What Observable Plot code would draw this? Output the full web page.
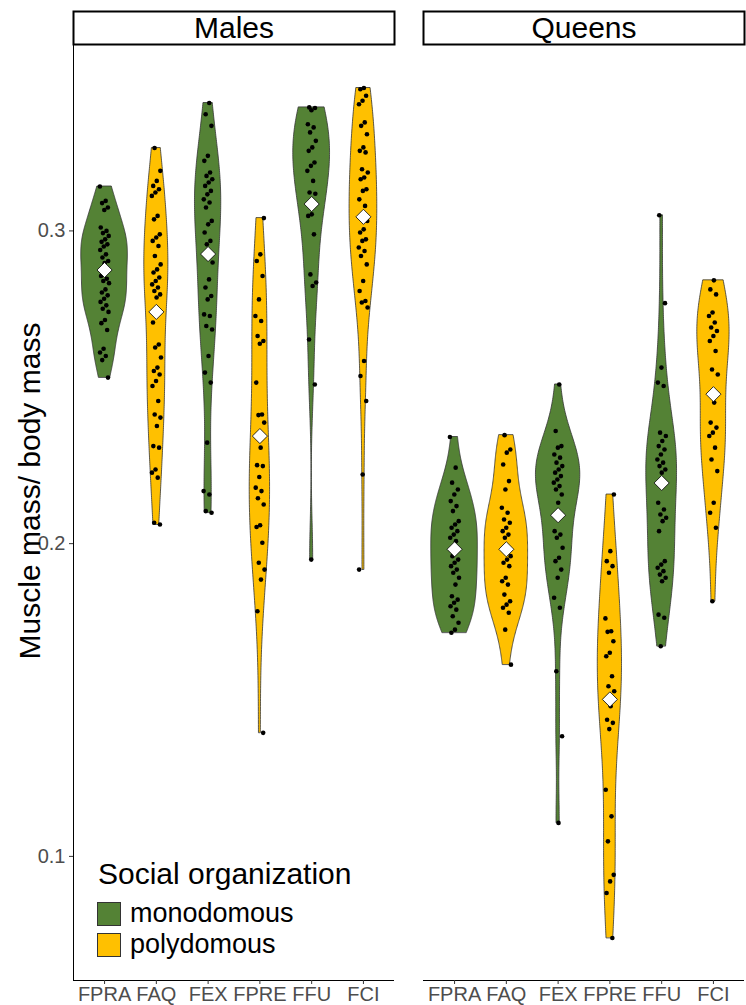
<!DOCTYPE html>
<html><head><meta charset="utf-8">
<script src="https://cdn.jsdelivr.net/npm/d3@7"></script>
<script src="https://cdn.jsdelivr.net/npm/@observablehq/plot@0.6"></script>
<style>
body{margin:0;background:#fff;font-family:"Liberation Sans",Arial,sans-serif;}
#wrap{position:relative;width:746px;height:1005px;}
#legend{position:absolute;left:97px;top:859px;color:#000;}
#legend .title{font-size:30px;margin-left:1px;line-height:30px;height:30px;}
#legend .row{display:flex;align-items:center;height:31px;}
#legend .row.first{margin-top:9px;}
#legend .sw{width:24px;height:24px;border:1px solid #333;box-sizing:border-box;margin-right:9px;flex:none;}
#legend .lab{font-size:27px;line-height:27px;}
svg g[aria-label="y-axis tick label"] text, svg g[aria-label="y-axis tick label"]{font-size:20px !important;}
svg g[aria-label="x-axis tick label"] text, svg g[aria-label="x-axis tick label"]{font-size:20px !important;}
</style></head><body><div id="wrap"><div id="legend"></div></div>
<script>
const categories = ["FPRA","FAQ","FEX","FPRE","FFU","FCI"];
const castes = ["Males","Queens"];
const socialOrg = ["monodomous","polydomous","monodomous","polydomous","monodomous","polydomous"];
const orgLevels = ["monodomous","polydomous"];
const orgColors = ["#548235","#FFC000"];
const yTicks = [0.1,0.2,0.3];

const malesFPRA = [0.3142,0.3096,0.3089,0.3075,0.3067,0.3011,0.3000,0.2993,0.2984,0.2973,0.2965,0.2957,0.2950,0.2939,0.2925,0.2915,0.2904,0.2897,0.2856,0.2847,0.2840,0.2833,0.2813,0.2803,0.2794,0.2783,0.2773,0.2762,0.2751,0.2741,0.2715,0.2705,0.2683,0.2623,0.2611,0.2600,0.2587,0.2531];
const malesFAQ = [0.3265,0.3192,0.3160,0.3144,0.3133,0.3123,0.3112,0.3048,0.3037,0.2989,0.2979,0.2968,0.2952,0.2920,0.2893,0.2877,0.2867,0.2851,0.2840,0.2829,0.2819,0.2808,0.2797,0.2787,0.2707,0.2637,0.2627,0.2595,0.2563,0.2552,0.2541,0.2520,0.2504,0.2456,0.2413,0.2403,0.2376,0.2312,0.2307,0.2237,0.2227,0.2211,0.2067,0.2061];
const malesFEX = [0.3409,0.3373,0.3336,0.3240,0.3224,0.3187,0.3176,0.3165,0.3155,0.3144,0.3128,0.3117,0.3101,0.3091,0.3075,0.3032,0.3021,0.2995,0.2968,0.2957,0.2899,0.2845,0.2819,0.2792,0.2781,0.2733,0.2728,0.2696,0.2685,0.2600,0.2547,0.2515,0.2323,0.2168,0.2157,0.2104,0.2099];
const malesFPRE = [0.3041,0.2925,0.2904,0.2856,0.2781,0.2728,0.2712,0.2664,0.2648,0.2639,0.2515,0.2413,0.2411,0.2387,0.2307,0.2251,0.2248,0.2213,0.2179,0.2168,0.2145,0.2125,0.2059,0.2053,0.2003,0.1939,0.1917,0.1885,0.1784,0.1395];
const malesFFU = [0.3395,0.3393,0.3386,0.3341,0.3331,0.3315,0.3288,0.3267,0.3256,0.3219,0.3208,0.3192,0.3160,0.3123,0.3119,0.3053,0.3048,0.2989,0.2861,0.2835,0.2824,0.2653,0.2509,0.1949];
const malesFCI = [0.3457,0.3453,0.3432,0.3416,0.3405,0.3347,0.3336,0.3309,0.3267,0.3256,0.3251,0.3197,0.3187,0.3171,0.3165,0.3133,0.3128,0.3101,0.3080,0.3048,0.3032,0.3005,0.2995,0.2973,0.2968,0.2947,0.2936,0.2920,0.2893,0.2840,0.2808,0.2776,0.2771,0.2755,0.2584,0.2536,0.2456,0.2221,0.1917];
const queensFPRA = [0.2341,0.2243,0.2195,0.2173,0.2157,0.2136,0.2120,0.2104,0.2072,0.2061,0.2051,0.2040,0.2029,0.2019,0.2008,0.1960,0.1949,0.1939,0.1928,0.1917,0.1907,0.1891,0.1869,0.1832,0.1821,0.1811,0.1800,0.1789,0.1768,0.1747,0.1725,0.1715];
const queensFAQ = [0.2347,0.2301,0.2291,0.2253,0.2200,0.2173,0.2115,0.2099,0.2077,0.2067,0.2051,0.2040,0.2029,0.2019,0.1960,0.1949,0.1939,0.1928,0.1891,0.1880,0.1869,0.1837,0.1816,0.1805,0.1795,0.1779,0.1725,0.1613];
const queensFEX = [0.2509,0.2360,0.2312,0.2307,0.2285,0.2275,0.2259,0.2248,0.2237,0.2227,0.2216,0.2205,0.2195,0.2184,0.2173,0.2157,0.2131,0.2040,0.2029,0.2019,0.1987,0.1955,0.1944,0.1917,0.1891,0.1827,0.1795,0.1592,0.1384,0.1107];
const queensFPRE = [0.2157,0.1976,0.1944,0.1928,0.1907,0.1761,0.1720,0.1718,0.1688,0.1651,0.1640,0.1576,0.1544,0.1528,0.1480,0.1437,0.1427,0.1407,0.1213,0.1128,0.1048,0.0941,0.0920,0.0883,0.0739];
const queensFFU = [0.3050,0.2769,0.2563,0.2515,0.2504,0.2355,0.2344,0.2328,0.2312,0.2301,0.2285,0.2269,0.2259,0.2248,0.2237,0.2227,0.2131,0.2109,0.2093,0.2083,0.2072,0.2040,0.1944,0.1933,0.1923,0.1912,0.1901,0.1891,0.1880,0.1773,0.1763,0.1672];
const queensFCI = [0.2842,0.2813,0.2797,0.2739,0.2728,0.2707,0.2691,0.2680,0.2664,0.2648,0.2616,0.2557,0.2541,0.2451,0.2387,0.2371,0.2355,0.2344,0.2307,0.2269,0.2232,0.2131,0.2099,0.2051,0.1816];

const maleMeans = [0.2875,0.2741,0.2926,0.2344,0.3086,0.3045];
const queenMeans = [0.1982,0.1982,0.2091,0.1502,0.2194,0.2478];

const groups = {
  Males: [malesFPRA, malesFAQ, malesFEX, malesFPRE, malesFFU, malesFCI],
  Queens: [queensFPRA, queensFAQ, queensFEX, queensFPRE, queensFFU, queensFCI]
};
const means = {Males: maleMeans, Queens: queenMeans};

// build tables
const pointRows = [], meanRows = [], violinRows = [];
castes.forEach(c => {
  const rowsC = [];
  groups[c].forEach((vals, i) => {
    const pos = i + 1, org = socialOrg[i], key = c + categories[i];
    vals.forEach((v, j) => {
      const jit = (((j * 0.618034 + i * 0.31) % 1) - 0.5) * 0.18;
      pointRows.push({caste: c, xj: pos + jit, value: v});
    });
    meanRows.push({caste: c, pos, mean: means[c][i]});
    // gaussian KDE, nrd0 bandwidth, trimmed to data range
    const s = vals.slice().sort(d3.ascending);
    const n = s.length;
    const sd = d3.deviation(s);
    const iqr = d3.quantile(s, 0.75) - d3.quantile(s, 0.25);
    const lo = Math.min(sd, iqr / 1.34) || sd;
    const bw = 0.9 * lo * Math.pow(n, -0.2);
    const mn = s[0], mx = s[n - 1], K = 200;
    for (let k = 0; k < K; k++) {
      const y = mn + (mx - mn) * k / (K - 1);
      let dsum = 0;
      for (const xv of s) { const u = (y - xv) / bw; dsum += Math.exp(-0.5 * u * u); }
      const dens = dsum / (n * bw * Math.sqrt(2 * Math.PI));
      rowsC.push({caste: c, key, org, pos, value: y, density: dens});
    }
  });
  const maxD = d3.max(rowsC, d => d.density);
  rowsC.forEach(r => { const hw = 0.45 * r.density / maxD; r.lo = r.pos - hw; r.hi = r.pos + hw; violinRows.push(r); });
});

const allVals = pointRows.map(d => d.value);
const [vmin, vmax] = d3.extent(allVals);
const pad = (vmax - vmin) * 0.05;
const yDomain = [vmin - pad, vmax + pad];
const xDomain = [0.4, 6.6];

const W = 746, H = 1005, MT = 45, MB = 25, ML = 73, MR = 1;
const frameH = H - MT - MB;

const chart = Plot.plot({
  width: W, height: H, marginTop: MT, marginBottom: MB, marginLeft: ML, marginRight: MR,
  style: {fontFamily: '"Liberation Sans", Arial, sans-serif', background: "white", color: "black"},
  fx: {domain: castes, padding: 0.0827, axis: null, label: null},
  x: {domain: xDomain, axis: null},
  y: {domain: yDomain, axis: null},
  color: {domain: orgLevels, range: orgColors},
  marks: [
    Plot.frame({fill: "white", stroke: "black", strokeWidth: 2, insetTop: -34, insetBottom: frameH + 1}),
    Plot.text(castes, {fx: d => d, text: d => d, frameAnchor: "top", lineAnchor: "middle", dy: -17, fontSize: 30, fill: "black"}),
    Plot.areaX(violinRows, {fx: "caste", x1: "lo", x2: "hi", y: "value", z: "key", fill: "org", stroke: "#333", strokeWidth: 0.8}),
    Plot.dot(pointRows, {fx: "caste", x: "xj", y: "value", r: 2.3, fill: "black"}),
    Plot.dot(meanRows, {fx: "caste", x: "pos", y: "mean", symbol: "diamond2", r: 6.8, fill: "white", stroke: "black", strokeWidth: 0.8}),
    Plot.ruleY([yDomain[0]], {stroke: "black", strokeWidth: 1}),
    Plot.ruleX(["Males"], {fx: d => d, x: () => xDomain[0], stroke: "black", strokeWidth: 1}),
    Plot.axisY({ticks: yTicks, tickFormat: d3.format(".1f"), tickSize: 4, tickPadding: 4, fontSize: 20, fill: "#4D4D4D", stroke: "#333", label: null}),
    Plot.axisX({ticks: [1,2,3,4,5,6], tickFormat: i => categories[i - 1], tickSize: 4, tickPadding: 2, fontSize: 20, fill: "#4D4D4D", stroke: "#333", label: null}),
    Plot.text(["Muscle mass/ body mass"], {fx: () => "Males", text: d => d, frameAnchor: "left", textAnchor: "middle", lineAnchor: "middle", rotate: -90, dx: -43, dy: -22, fontSize: 30, fill: "black"})
  ]
});
document.getElementById("wrap").prepend(chart);

const leg = document.getElementById("legend");
const t = document.createElement("div"); t.className = "title"; t.textContent = "Social organization"; leg.appendChild(t);
orgLevels.forEach((o, i) => {
  const r = document.createElement("div"); r.className = "row" + (i === 0 ? " first" : "");
  const sw = document.createElement("div"); sw.className = "sw"; sw.style.background = orgColors[i];
  const lb = document.createElement("div"); lb.className = "lab"; lb.textContent = o;
  r.appendChild(sw); r.appendChild(lb); leg.appendChild(r);
});
</script></body></html>
